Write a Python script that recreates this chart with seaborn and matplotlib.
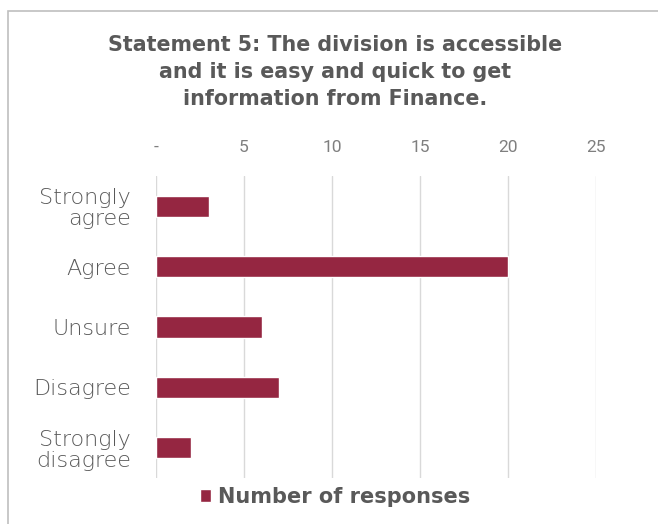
import matplotlib
matplotlib.use("Agg")
import matplotlib.pyplot as plt
from matplotlib.patches import Rectangle
import seaborn as sns
import pandas as pd

categories = ["Strongly\nagree", "Agree", "Unsure", "Disagree", "Strongly\ndisagree"]
responses = [3, 20, 6, 7, 2]
x_ticks = [0, 5, 10, 15, 20, 25]
x_tick_labels = ["-", "5", "10", "15", "20", "25"]
series_name = "Number of responses"
title = "Statement 5: The division is accessible\nand it is easy and quick to get\ninformation from Finance."

bar_color = "#952641"
text_color = "#595959"

sns.set_theme(style="white")
plt.rcParams["font.family"] = ["DejaVu Sans"]

df = pd.DataFrame({"category": categories, "count": responses})

fig = plt.figure(figsize=(6.58, 5.24), dpi=100)
ax = fig.add_axes([156 / 658, 1 - 478 / 524, 440 / 658, 302 / 524])

sns.barplot(data=df, x="count", y="category", color=bar_color, width=0.35,
            saturation=1, label=series_name, ax=ax, zorder=3)

ax.set_xlim(0, 25)
ax.set_ylim(4.5, -0.5)
ax.set_xticks(x_ticks)
ax.set_xticklabels(x_tick_labels, fontsize=12.5, color="#7f7f7f",
                   family=["Liberation Sans Narrow", "Roboto", "DejaVu Sans"])
ax.xaxis.tick_top()
ax.tick_params(axis="x", length=0, pad=15)
ax.tick_params(axis="y", length=0, pad=18)
for lbl in ax.get_yticklabels():
    lbl.set_family(["DejaVu Sans"])
    lbl.set_fontsize(16)
    lbl.set_color(text_color)
    lbl.set_fontweight(200)
    lbl.set_linespacing(1.05)
    lbl.set_horizontalalignment("right")
ax.set_xlabel("")
ax.set_ylabel("")
ax.grid(axis="x", color="#d9d9d9", linewidth=1, zorder=0)
ax.grid(axis="y", visible=False)
for s in ax.spines.values():
    s.set_visible(False)
if ax.get_legend() is not None:
    ax.get_legend().remove()

fig.text(335 / 658, 1 - 35 / 524, title, ha="center", va="top", fontsize=14.9,
         fontweight="bold", color=text_color, linespacing=1.43)

handles, labels = ax.get_legend_handles_labels()
leg = fig.legend(handles, labels, loc="center", bbox_to_anchor=(335 / 658, 1 - 497 / 524),
                 frameon=False, handlelength=0.55, handleheight=0.55, handletextpad=0.35,
                 prop={"size": 15, "weight": "bold"})
for t in leg.get_texts():
    t.set_color(text_color)

fig.patches.append(Rectangle((8 / 658, -0.05), 1.0, 1 - 11 / 524 + 0.05,
                             transform=fig.transFigure, fill=False,
                             edgecolor="#bfbfbf", linewidth=1.2))

fig.savefig("out.png", dpi=100)
